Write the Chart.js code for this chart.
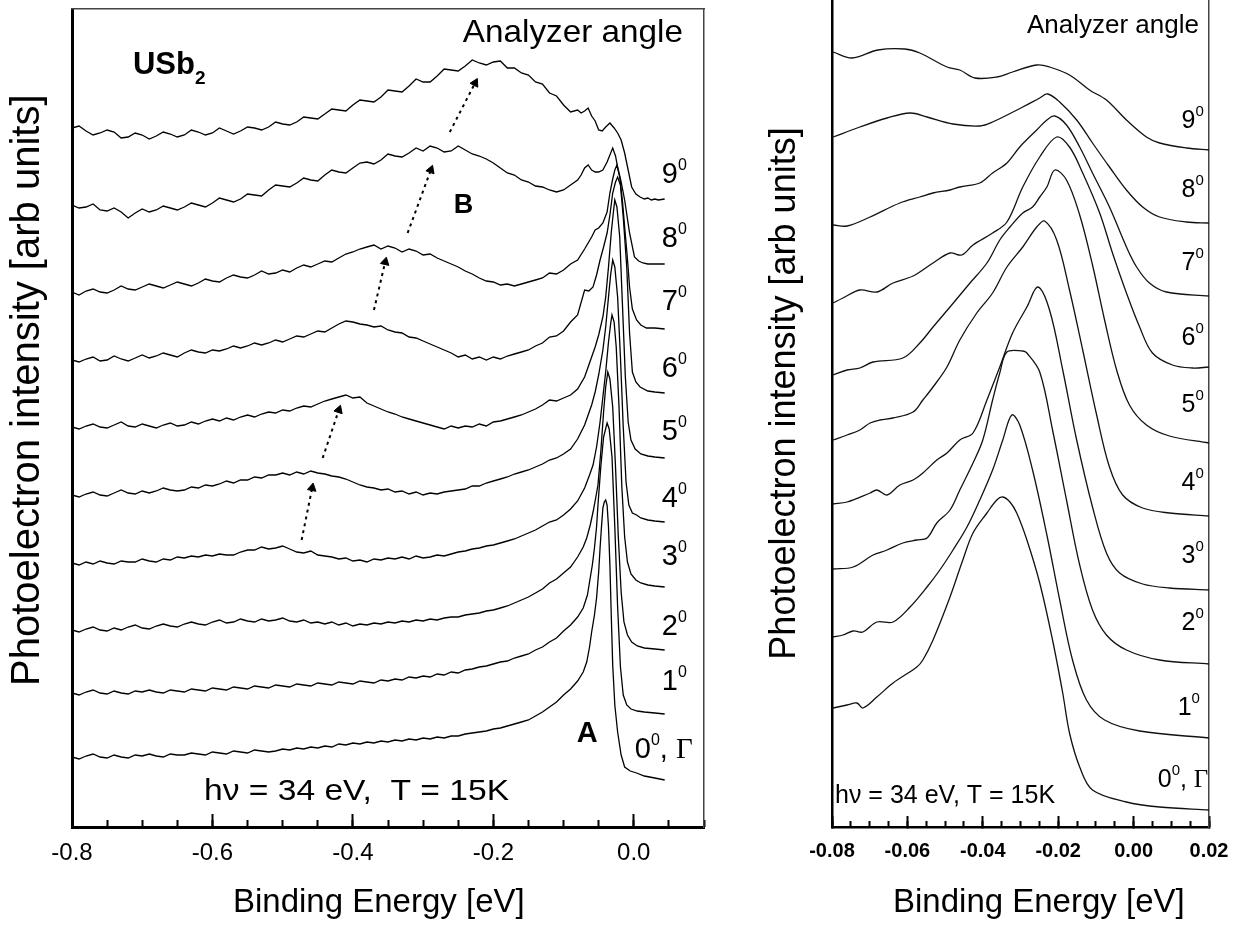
<!DOCTYPE html>
<html>
<head>
<meta charset="utf-8">
<script src="https://cdn.jsdelivr.net/npm/chart.js@4.4.1/dist/chart.umd.min.js"></script>
<style>
  html, body { margin: 0; padding: 0; background: #fff; }
  #wrap { position: relative; width: 1239px; height: 925px; }
  #boxL { position: absolute; left: 0; top: 0; width: 740px; height: 925px; }
  #boxR { position: absolute; left: 740px; top: 0; width: 499px; height: 925px; }
</style>
</head>
<body>
<div id="wrap">
  <div id="boxL"><canvas id="left"></canvas></div>
  <div id="boxR"><canvas id="right"></canvas></div>
</div>
<script>
// ---- left panel: wide energy range, noisy spectra, 0..9 deg ----
var xBody = [-0.80,-0.79,-0.78,-0.77,-0.76,-0.75,-0.74,-0.73,-0.72,-0.71,-0.70,-0.69,-0.68,-0.67,-0.66,-0.65,-0.64,-0.63,-0.62,-0.61,
  -0.60,-0.59,-0.58,-0.57,-0.56,-0.55,-0.54,-0.53,-0.52,-0.51,-0.50,-0.49,-0.48,-0.47,-0.46,-0.45,-0.44,-0.43,-0.42,-0.41,
  -0.40,-0.39,-0.38,-0.37,-0.36,-0.35,-0.34,-0.33,-0.32,-0.31,-0.30,-0.29,-0.28,-0.27,-0.26,-0.25,-0.24,-0.23,-0.22,-0.21,
  -0.20,-0.19,-0.18,-0.17,-0.16,-0.15,-0.14,-0.13,-0.12,-0.11,-0.10];

var bodyL9 = [699,701,696,692,694,697,695,689,690,694,692,688,691,695,693,690,692,697,695,692,694,699,696,693,696,700,699,697,700,705,
  703,702,705,710,709,708,713,718,717,716,722,727,726,725,730,737,736,735,741,748,745,745,751,758,757,756,761,767,764,762,765,766,759,759,754,752,745,743,734,731,722];
var tailL9 = [[-0.09,715],[-0.08,717],[-0.075,714],[-0.07,716],[-0.065,719],[-0.06,711],[-0.055,706],[-0.05,697],[-0.045,696],[-0.04,700],[-0.034,704],[-0.028,699],[-0.023,694],[-0.018,687],[-0.013,674],[-0.008,657],[-0.003,640],[0.003,633],[0.009,630],[0.015,628],[0.02,629],[0.025,627],[0.03,628],[0.035,627],[0.044,628]];

var bodyL8 = [622,619,620,623,617,616,619,615,609,614,618,615,617,621,619,617,620,624,622,620,624,629,627,625,628,633,632,631,637,642,
  641,640,644,649,647,646,652,657,655,654,659,664,665,663,667,673,671,670,674,679,676,681,679,675,676,681,677,673,671,668,664,659,654,652,647,645,641,640,637,635,637];
var tailL8 = [[-0.09,642],[-0.08,647],[-0.075,652],[-0.07,659],[-0.065,662],[-0.06,657],[-0.055,655],[-0.05,655],[-0.044,657],[-0.038,665],[-0.034,672],[-0.03,679],[-0.026,671],[-0.023,660],[-0.018,645],[-0.013,627],[-0.006,594],[0.001,570],[0.007,566],[0.013,564],[0.02,563],[0.03,563],[0.044,563]];

var bodyL7 = [535,532,536,538,535,534,537,541,538,537,540,543,541,539,542,545,543,541,544,548,546,545,549,552,550,549,552,556,553,554,
  557,555,559,562,560,563,566,565,569,573,575,578,580,582,578,581,579,575,578,576,572,573,569,566,563,560,556,553,549,546,545,542,543,541,543,545,547,549,554,553,557];
var tailL7 = [[-0.09,563],[-0.08,567],[-0.07,578],[-0.06,590],[-0.055,597],[-0.05,599],[-0.044,604],[-0.038,615],[-0.034,634],[-0.03,648],[-0.027,657],[-0.024,662],[-0.02,650],[-0.016,625],[-0.013,600],[-0.009,568],[-0.006,540],[-0.002,518],[0.004,507],[0.01,502],[0.018,499],[0.03,499],[0.044,498]];

var bodyL6 = [467,465,468,470,466,467,471,468,466,469,472,469,471,474,472,470,474,477,475,474,477,476,478,481,479,481,484,482,484,487,
  485,488,491,490,493,496,495,499,503,506,505,503,502,500,501,497,495,494,490,489,486,483,480,477,474,470,472,468,470,467,470,468,471,473,475,477,481,484,490,491,496];
var tailL6 = [[-0.09,505],[-0.08,512],[-0.07,537],[-0.064,536],[-0.058,540],[-0.053,552],[-0.048,567],[-0.043,580],[-0.038,594],[-0.034,612],[-0.03,634],[-0.026,645],[-0.023,650],[-0.019,642],[-0.015,610],[-0.01,560],[-0.006,494],[-0.002,455],[0.003,445],[0.009,440],[0.02,436],[0.03,435],[0.044,434]];

var bodyL5 = [400,398,401,403,400,399,402,405,401,400,403,401,399,402,404,401,402,405,403,406,408,406,409,407,410,412,410,413,415,414,
  417,416,419,421,420,423,426,428,430,432,429,430,424,421,418,415,413,410,408,406,404,402,400,398,401,399,401,400,403,401,405,406,408,410,412,415,418,422,427,426,429];
var tailL5 = [[-0.09,432],[-0.08,438],[-0.07,450],[-0.06,470],[-0.055,480],[-0.05,492],[-0.044,510],[-0.04,530],[-0.036,560],[-0.032,595],[-0.029,615],[-0.027,627],[-0.024,620],[-0.02,590],[-0.016,520],[-0.012,450],[-0.008,405],[-0.004,387],[0.002,378],[0.01,373],[0.02,371],[0.03,370],[0.044,369]];

var bodyL4 = [332,330,333,335,332,331,334,337,334,333,336,334,336,339,337,336,337,340,339,342,341,343,346,344,347,347,350,349,352,352,
  354,352,355,353,356,354,353,351,350,348,345,342,340,339,337,338,335,336,333,335,332,334,333,335,336,337,338,341,341,344,346,348,350,353,355,357,360,363,367,369,373];
var tailL4 = [[-0.09,378],[-0.08,388],[-0.07,402],[-0.06,422],[-0.055,435],[-0.05,452],[-0.044,477],[-0.04,500],[-0.036,530],[-0.033,552],[-0.03,567],[-0.027,560],[-0.023,530],[-0.019,470],[-0.015,400],[-0.011,345],[-0.007,322],[-0.002,314],[0.004,312],[0.01,309],[0.02,307],[0.03,306],[0.044,305]];

var bodyL3 = [264,262,265,263,266,264,263,266,265,265,268,266,265,268,267,270,269,271,270,272,271,273,272,272,275,277,277,280,278,279,
  281,278,275,274,276,272,271,270,268,269,266,267,265,268,267,269,268,270,268,271,269,270,272,271,273,275,276,278,279,281,282,284,286,288,291,294,297,301,305,307,312];
var tailL3 = [[-0.09,318],[-0.08,326],[-0.07,339],[-0.063,352],[-0.058,362],[-0.053,380],[-0.048,405],[-0.044,430],[-0.04,455],[-0.036,485],[-0.033,503],[-0.031,512],[-0.028,505],[-0.025,480],[-0.021,420],[-0.017,340],[-0.013,290],[-0.009,265],[-0.004,253],[0.003,247],[0.01,244],[0.02,242],[0.03,241],[0.044,240]];

var bodyL2 = [197,195,198,200,197,196,199,197,200,202,199,198,201,203,201,200,203,205,203,202,205,207,204,205,208,206,205,208,206,207,
  209,206,205,207,204,205,203,205,202,204,201,203,202,204,203,205,204,206,205,207,206,208,207,209,210,210,212,213,214,216,217,219,221,224,227,230,234,238,244,248,254];
var tailL2 = [[-0.09,260],[-0.08,270],[-0.072,280],[-0.067,289],[-0.062,302],[-0.058,315],[-0.054,330],[-0.051,342],[-0.047,375],[-0.043,415],[-0.04,440],[-0.037,455],[-0.034,448],[-0.03,420],[-0.026,360],[-0.022,290],[-0.018,235],[-0.014,205],[-0.009,192],[-0.003,185],[0.005,181],[0.015,179],[0.03,178],[0.044,177]];

var bodyL1 = [134,132,135,137,134,133,136,134,133,136,135,137,135,134,137,136,135,138,137,136,139,138,137,140,139,138,141,140,139,142,
  141,140,143,142,141,144,143,142,145,144,143,146,145,144,147,146,148,147,150,149,151,150,153,152,155,154,157,158,160,161,163,165,166,169,171,173,177,180,185,189,196];
var tailL1 = [[-0.09,202],[-0.08,210],[-0.072,219],[-0.066,232],[-0.063,245],[-0.059,262],[-0.056,279],[-0.053,300],[-0.051,322],[-0.047,360],[-0.043,390],[-0.038,404],[-0.035,398],[-0.031,370],[-0.027,300],[-0.023,220],[-0.019,160],[-0.015,132],[-0.01,122],[-0.004,118],[0.005,116],[0.015,115],[0.03,114],[0.044,113]];

var bodyL0 = [70,68,71,73,70,69,72,70,69,72,71,73,71,70,73,72,72,74,73,72,75,74,73,76,75,74,77,76,75,76,
  78,77,79,78,80,79,81,80,83,82,84,83,85,84,86,85,87,86,88,87,89,88,90,89,91,91,93,94,95,96,98,99,101,103,105,107,111,115,120,125,132];
var tailL0 = [[-0.09,138],[-0.08,146],[-0.072,155],[-0.067,165],[-0.063,180],[-0.06,195],[-0.056,212],[-0.053,229],[-0.05,255],[-0.048,279],[-0.046,300],[-0.044,319],[-0.042,325],[-0.04,327],[-0.038,322],[-0.036,300],[-0.034,262],[-0.032,210],[-0.03,162],[-0.027,122],[-0.023,95],[-0.018,72],[-0.013,60],[-0.005,56],[0.004,54],[0.015,51],[0.03,49],[0.044,47]];

// dotted arrows following peak B
var arrowsL = [
  [[-0.473, 287], [-0.458, 339]],
  [[-0.443, 369], [-0.420, 417]],
  [[-0.370, 517], [-0.354, 565]],
  [[-0.322, 594], [-0.289, 657]],
  [[-0.262, 695], [-0.226, 744]]
];

// ---- right panel: close-up near E_F, smooth spectra ----
var curveR9 = [[-0.0797,775],[-0.0747,769],[-0.0678,777],[-0.0607,778],[-0.0567,774],[-0.0495,760],[-0.0461,757],[-0.0421,749],[-0.0363,750],[-0.0321,755],[-0.0257,762],[-0.0223,760],[-0.0170,752],[-0.0117,737],[-0.0072,727],[-0.0019,707],[0.0034,690],[0.0069,684],[0.0140,679],[0.0200,677]];
var curveR8 = [[-0.0797,690],[-0.0726,700],[-0.0654,709],[-0.0593,714],[-0.0548,710],[-0.0479,703],[-0.0408,701],[-0.0374,705],[-0.0294,720],[-0.0249,729],[-0.0228,733],[-0.0196,725],[-0.0151,707],[-0.0109,684],[-0.0064,660],[-0.0019,637],[0.0024,620],[0.0069,610],[0.0140,605],[0.0200,604]];
var curveR7 = [[-0.0797,602],[-0.0760,601],[-0.0699,610],[-0.0620,624],[-0.0567,630],[-0.0532,634],[-0.0487,637],[-0.0461,640],[-0.0408,644],[-0.0374,654],[-0.0336,664],[-0.0302,680],[-0.0257,697],[-0.0230,707],[-0.0209,711],[-0.0178,702],[-0.0143,680],[-0.0109,654],[-0.0064,620],[-0.0019,580],[0.0008,560],[0.0042,544],[0.0087,535],[0.0200,531]];
var curveR6 = [[-0.0797,524],[-0.0771,529],[-0.0726,537],[-0.0681,535],[-0.0638,544],[-0.0585,551],[-0.0532,564],[-0.0487,574],[-0.0456,572],[-0.0426,582],[-0.0374,594],[-0.0336,605],[-0.0294,640],[-0.0249,670],[-0.0204,690],[-0.0170,680],[-0.0135,654],[-0.0090,614],[-0.0056,574],[-0.0019,534],[0.0016,500],[0.0050,474],[0.0103,462],[0.0156,459],[0.0200,460]];
var curveR5 = [[-0.0797,452],[-0.0760,457],[-0.0726,459],[-0.0691,465],[-0.0612,469],[-0.0567,484],[-0.0532,500],[-0.0487,520],[-0.0434,544],[-0.0389,564],[-0.0355,587],[-0.0328,600],[-0.0294,614],[-0.0268,620],[-0.0249,630],[-0.0230,640],[-0.0209,657],[-0.0178,647],[-0.0143,612],[-0.0109,562],[-0.0077,507],[-0.0045,457],[-0.0011,422],[0.0034,402],[0.0095,391],[0.0200,384]];
var curveR4 = [[-0.0797,387],[-0.0760,392],[-0.0726,397],[-0.0699,404],[-0.0673,407],[-0.0638,409],[-0.0585,415],[-0.0559,427],[-0.0532,440],[-0.0495,460],[-0.0461,487],[-0.0416,514],[-0.0374,534],[-0.0336,560],[-0.0294,580],[-0.0257,600],[-0.0236,606],[-0.0204,587],[-0.0170,537],[-0.0135,477],[-0.0098,412],[-0.0064,360],[-0.0029,332],[0.0024,319],[0.0095,314],[0.0200,311]];
var curveR3 = [[-0.0797,323],[-0.0760,325],[-0.0699,334],[-0.0681,337],[-0.0654,332],[-0.0620,342],[-0.0585,347],[-0.0559,354],[-0.0522,367],[-0.0495,374],[-0.0461,387],[-0.0426,394],[-0.0389,427],[-0.0355,460],[-0.0321,494],[-0.0283,520],[-0.0254,540],[-0.0223,517],[-0.0188,457],[-0.0151,387],[-0.0109,320],[-0.0072,274],[-0.0037,254],[0.0024,243],[0.0095,239],[0.0200,237]];
var curveR2 = [[-0.0797,258],[-0.0744,260],[-0.0691,272],[-0.0654,277],[-0.0612,284],[-0.0575,287],[-0.0548,289],[-0.0522,304],[-0.0487,317],[-0.0461,337],[-0.0426,364],[-0.0400,387],[-0.0374,427],[-0.0355,454],[-0.0336,475],[-0.0294,476],[-0.0283,474],[-0.0249,455],[-0.0215,397],[-0.0178,327],[-0.0143,262],[-0.0109,217],[-0.0072,192],[-0.0019,177],[0.0069,167],[0.0200,163]];
var curveR1 = [[-0.0797,190],[-0.0771,192],[-0.0744,196],[-0.0718,195],[-0.0681,205],[-0.0638,205],[-0.0593,220],[-0.0548,240],[-0.0514,257],[-0.0479,277],[-0.0442,300],[-0.0408,327],[-0.0374,357],[-0.0347,387],[-0.0323,412],[-0.0302,402],[-0.0268,357],[-0.0230,292],[-0.0196,227],[-0.0162,167],[-0.0125,127],[-0.0077,107],[0.0016,96],[0.0200,89]];
var curveR0 = [[-0.0797,119],[-0.0760,122],[-0.0734,124],[-0.0718,119],[-0.0681,130],[-0.0638,144],[-0.0575,160],[-0.0559,167],[-0.0532,187],[-0.0487,230],[-0.0453,267],[-0.0426,294],[-0.0389,314],[-0.0363,327],[-0.0347,330],[-0.0328,325],[-0.0310,314],[-0.0283,287],[-0.0249,244],[-0.0215,187],[-0.0188,134],[-0.0170,94],[-0.0143,60],[-0.0109,37],[-0.0019,25],[0.0069,20],[0.0200,17]];

var angles = ["9", "8", "7", "6", "5", "4", "3", "2", "1", "0"];
var labelYL = [644, 580, 517, 450, 387, 320, 262, 192, 137, 69];
var labelYR = [699, 630, 557, 482, 415, 337, 264, 197, 112, 40];

var SANS = "'Liberation Sans', Arial, sans-serif";
var SERIF = "'Liberation Serif', 'Times New Roman', serif";
Chart.defaults.font.family = SANS;
Chart.defaults.color = '#000';

function pts(list) {
  return list.map(function (p) { return { x: p[0], y: p[1] }; });
}
function joinBody(body, tail) {
  var out = xBody.map(function (x, i) { return { x: x, y: body[i] }; });
  return out.concat(pts(tail));
}

// text drawn in data coordinates, several font runs per note
var notesPlugin = {
  id: 'notes',
  afterDatasetsDraw: function (chart, args, opts) {
    var ctx = chart.ctx, xs = chart.scales.x, ys = chart.scales.y;
    (opts.items || []).forEach(function (n) {
      var cx = 0, sx = n.sx || 1;
      ctx.save();
      ctx.translate(xs.getPixelForValue(n.x), ys.getPixelForValue(n.y));
      ctx.scale(sx, 1);
      ctx.fillStyle = '#000';
      ctx.textAlign = 'left';
      ctx.textBaseline = 'alphabetic';
      n.parts.forEach(function (p) {
        ctx.font = p[1];
        ctx.fillText(p[0], cx, p[2] || 0);
        cx += ctx.measureText(p[0]).width;
      });
      ctx.restore();
    });
  }
};

function angleNote(a, x, y, big, small, up, gamma) {
  var parts = [[a, big + 'px ' + SANS], ['0', small + 'px ' + SANS, -up]];
  if (gamma) {
    parts.push([', ', big + 'px ' + SANS]);
    parts.push(['\u0393', big + 'px ' + SERIF]);
  }
  return { x: x, y: y, parts: parts };
}

var notesL = [
  { x: -0.2434, y: 785, parts: [['Analyzer angle', '32px ' + SANS]], sx: 1.04 },
  { x: -0.7132, y: 753, parts: [['USb', 'bold 31px ' + SANS], ['2', 'bold 19px ' + SANS, 10]] },
  { x: -0.2562, y: 614, parts: [['B', 'bold 27px ' + SANS]] },
  { x: -0.0811, y: 85, parts: [['A', 'bold 29px ' + SANS]] },
  { x: -0.6121, y: 27, parts: [['h\u03bd = 34 eV,  T = 15K', '30px ' + SANS]], sx: 1.12 }
];
angles.forEach(function (a, i) {
  if (a === '0') notesL.push(angleNote(a, 0.0014, labelYL[i], 29, 16, 13, true));
  else notesL.push(angleNote(a, 0.0399, labelYL[i], 29, 16, 13, false));
});

var notesR = [
  { x: -0.0283, y: 794, parts: [['Analyzer angle', '26px ' + SANS]] },
  { x: -0.0792, y: 24, parts: [['h\u03bd = 34 eV, T = 15K', '25px ' + SANS]] }
];
angles.forEach(function (a, i) {
  if (a === '0') notesR.push(angleNote(a, 0.0064, labelYR[i], 25, 15, 12, true));
  else notesR.push(angleNote(a, a === '1' ? 0.0117 : 0.0127, labelYR[i], 25, 15, 12, false));
});

function arrowAngle(ctx) {
  var ch = ctx.chart, d = ctx.dataset.data;
  var dx = ch.scales.x.getPixelForValue(d[1].x) - ch.scales.x.getPixelForValue(d[0].x);
  var dy = ch.scales.y.getPixelForValue(d[1].y) - ch.scales.y.getPixelForValue(d[0].y);
  return Math.atan2(dx, -dy) * 180 / Math.PI;
}

var leftSets = [
  joinBody(bodyL0, tailL0), joinBody(bodyL1, tailL1), joinBody(bodyL2, tailL2), joinBody(bodyL3, tailL3), joinBody(bodyL4, tailL4),
  joinBody(bodyL5, tailL5), joinBody(bodyL6, tailL6), joinBody(bodyL7, tailL7), joinBody(bodyL8, tailL8), joinBody(bodyL9, tailL9)
].map(function (d) {
  return { data: d, showLine: true, borderColor: '#000', borderWidth: 1.3, pointRadius: 0, tension: 0 };
});
arrowsL.forEach(function (a) {
  leftSets.push({
    data: pts(a), showLine: true, borderColor: '#000', borderWidth: 2, borderDash: [3, 4],
    pointRadius: [0, 5], pointStyle: 'triangle', pointBackgroundColor: '#000', pointBorderColor: '#000',
    pointBorderWidth: 1, pointRotation: arrowAngle, tension: 0
  });
});

var rightSets = [curveR0, curveR1, curveR2, curveR3, curveR4, curveR5, curveR6, curveR7, curveR8, curveR9].map(function (c) {
  return { data: pts(c), showLine: true, borderColor: '#111', borderWidth: 1.3, pointRadius: 0, tension: 0.35 };
});

function frameAxes(o) {
  return {
    x: {
      type: 'linear', position: 'bottom', weight: 1, min: o.xmin, max: o.xmax,
      afterFit: function (s) { s.height = 98; },
      ticks: { stepSize: o.major, includeBounds: false, autoSkip: false, maxRotation: 0, padding: o.tickPad,
        font: o.tickFont, color: '#000', callback: function (v) { return v.toFixed(o.dec); } },
      grid: { display: true, drawOnChartArea: false, drawTicks: true, tickLength: -o.majorLen, tickWidth: 2, tickColor: '#000' },
      border: { display: true, width: o.axisW, color: '#000' },
      title: { display: true, text: o.xTitle, font: { size: 33 }, color: '#000', padding: { top: 0, bottom: 2 } }
    },
    xMinor: {
      type: 'linear', position: 'bottom', weight: 0, min: o.xmin, max: o.xmax,
      afterFit: function (s) { s.height = 0; },
      ticks: { display: false, stepSize: o.minor, includeBounds: false, maxTicksLimit: 100 },
      grid: { display: true, drawOnChartArea: false, drawTicks: true, tickLength: -o.minorLen, tickWidth: 2, tickColor: '#000' },
      border: { display: false }
    },
    y: {
      type: 'linear', position: 'left', min: 0, max: o.ymax,
      afterFit: function (s) { s.width = o.yWidth; },
      ticks: { display: false },
      grid: { display: false },
      border: { display: true, width: o.axisW, color: '#000' },
      title: { display: true, text: o.yTitle, font: { size: o.yTitleSize }, color: '#000', padding: { top: o.yTitlePad, bottom: 0 } }
    },
    yRight: {
      type: 'linear', position: 'right', min: 0, max: o.ymax,
      afterFit: function (s) { s.width = 0; },
      ticks: { display: false },
      grid: { display: false },
      border: { display: true, width: 1.5, color: '#444' }
    }
  };
}

var scalesL = frameAxes({
  xmin: -0.8, xmax: 0.1, major: 0.2, minor: 0.05, dec: 1, tickPad: 25, majorLen: 13, minorLen: 7,
  tickFont: { size: 24 }, axisW: 3, ymax: 818, yWidth: 72,
  xTitle: 'Binding Energy [eV]  ', yTitle: '     Photoelectron intensity [arb units]', yTitleSize: 40, yTitlePad: 4
});
scalesL.xTop = {
  type: 'linear', position: 'top', min: -0.8, max: 0.1,
  afterFit: function (s) { s.height = 0; },
  ticks: { display: false }, grid: { display: false },
  border: { display: true, width: 1.5, color: '#444' }
};

// tall line box pushes the bold labels down without extra side padding
var scalesR = frameAxes({
  xmin: -0.08, xmax: 0.02, major: 0.02, minor: 0.005, dec: 2, tickPad: 0, majorLen: 11, minorLen: 6,
  tickFont: { size: 20, weight: 'bold', lineHeight: 3.5 }, axisW: 2.5, ymax: 827, yWidth: 92,
  xTitle: '    Binding Energy [eV]', yTitle: '    Photoelectron intensity [arb units]', yTitleSize: 36, yTitlePad: 23
});

new Chart(document.getElementById('left'), {
  type: 'scatter',
  data: { datasets: leftSets },
  options: {
    responsive: true, maintainAspectRatio: false, animation: false,
    layout: { autoPadding: false, padding: { left: 0, right: 36, top: 9, bottom: 0 } },
    plugins: { legend: { display: false }, tooltip: { enabled: false }, notes: { items: notesL } },
    scales: scalesL
  },
  plugins: [notesPlugin]
});

new Chart(document.getElementById('right'), {
  type: 'scatter',
  data: { datasets: rightSets },
  options: {
    responsive: true, maintainAspectRatio: false, animation: false,
    layout: { autoPadding: false, padding: { left: 0, right: 30, top: 0, bottom: 0 } },
    plugins: { legend: { display: false }, tooltip: { enabled: false }, notes: { items: notesR } },
    scales: scalesR
  },
  plugins: [notesPlugin]
});
</script>
</body>
</html>
